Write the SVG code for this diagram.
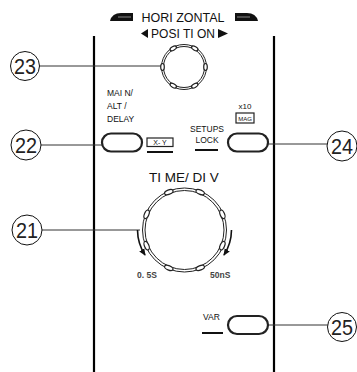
<svg xmlns="http://www.w3.org/2000/svg" width="357" height="372" viewBox="0 0 357 372">
<style>
text{font-family:"Liberation Sans",Arial,sans-serif;fill:#111}
.num{font-size:22px;fill:#222}
.call{fill:#fff;stroke:#111;stroke-width:1}
.lead{stroke:#333;stroke-width:1;fill:none}
.panel{stroke:#000;stroke-width:2.2}
.btn{fill:#fff;stroke:#222;stroke-width:2.2}
.ring{fill:none;stroke:#222;stroke-width:1}
.bump{fill:#fff;stroke:#222;stroke-width:1.2}
.sm{font-size:8.5px}
.scale{font-size:8.5px;fill:#444;font-weight:bold}
</style>
<defs>
<marker id="ah" markerWidth="8" markerHeight="8" refX="6" refY="4" orient="auto" markerUnits="userSpaceOnUse">
<path d="M0,1 L7,4 L0,7 Z" fill="#111"/>
</marker>
<ellipse id="b21" cx="0" cy="-41" rx="4.5" ry="2.2" class="bump"/>
<ellipse id="b23" cx="0" cy="-21.5" rx="3.5" ry="1.8" class="bump"/>
</defs>

<g id="panel">
<line x1="94" y1="36" x2="94" y2="372" class="panel"/>
<line x1="274" y1="36" x2="274" y2="372" class="panel"/>
</g>

<g id="title">
<path d="M110,21 Q112,13 121,13 L133,13 L133,21 Z" fill="#111"/>
<line x1="118" y1="17" x2="131" y2="17" stroke="#888" stroke-width="1"/>
<path d="M235,13 L247,13 Q256,13 258,21 L235,21 Z" fill="#111"/>
<line x1="237" y1="17" x2="250" y2="17" stroke="#888" stroke-width="1"/>
<text x="183" y="21.5" font-size="12.5" text-anchor="middle">HORI ZONTAL</text>
<path d="M148,29 L148,38 L141,33.5 Z" fill="#111"/>
<text x="183" y="38" font-size="12" text-anchor="middle">POSI TI ON</text>
<path d="M218,29 L218,38 L228,33.5 Z" fill="#111"/>
</g>

<g id="connectors">
<line x1="39" y1="66" x2="161" y2="66" class="lead"/>
<line x1="41" y1="145" x2="102" y2="145" class="lead"/>
<line x1="42" y1="230" x2="140" y2="230" class="lead"/>
<line x1="268" y1="144" x2="327" y2="144" class="lead"/>
<line x1="268" y1="325" x2="328" y2="325" class="lead"/>
<path d="M137.5,230 A47,47 0 0 0 145,255" stroke="#111" stroke-width="1.6" fill="none" marker-end="url(#ah)"/>
<path d="M231.5,230 A47,47 0 0 1 224,255" stroke="#111" stroke-width="1.6" fill="none" marker-end="url(#ah)"/>
</g>

<g id="knob23">
<circle cx="184" cy="67" r="22.5" class="ring" stroke-width="1.4"/>
<circle cx="184" cy="67" r="20.5" class="ring" stroke-width="1.4"/>
<g transform="translate(184,67)">
<use href="#b23" transform="rotate(30)"/>
<use href="#b23" transform="rotate(90)"/>
<use href="#b23" transform="rotate(150)"/>
<use href="#b23" transform="rotate(210)"/>
<use href="#b23" transform="rotate(270)"/>
<use href="#b23" transform="rotate(330)"/>
</g>
</g>

<g id="callout23">
<circle cx="25" cy="66" r="14.5" class="call"/>
<text x="25" y="74" class="num" text-anchor="middle" textLength="22" lengthAdjust="spacingAndGlyphs">23</text>
</g>

<g id="mainlabel">
<text x="107" y="96" class="sm">MAI N/</text>
<text x="107" y="109" class="sm">ALT  /</text>
<text x="107" y="122" class="sm">DELAY</text>
</g>

<g id="button22">
<rect x="102" y="133.5" width="40" height="18" rx="9" class="btn"/>
</g>
<g id="callout22">
<circle cx="26" cy="145" r="15" class="call"/>
<text x="26" y="153" class="num" text-anchor="middle" textLength="22" lengthAdjust="spacingAndGlyphs">22</text>
</g>

<g id="xy">
<rect x="147" y="138" width="26" height="8.5" fill="#fff" stroke="#222" stroke-width="1.2"/>
<text x="160" y="145" font-size="7" text-anchor="middle">X- Y</text>
<line x1="147" y1="152" x2="173" y2="152" stroke="#111" stroke-width="2"/>
</g>

<g id="mag">
<text x="245" y="109" font-size="8" text-anchor="middle">x10</text>
<rect x="236" y="113" width="18" height="10" fill="#fff" stroke="#222" stroke-width="1.2"/>
<text x="245" y="121" font-size="6" text-anchor="middle">MAG</text>
</g>

<g id="setups">
<text x="207" y="132" class="sm" text-anchor="middle">SETUPS</text>
<text x="207" y="143" class="sm" text-anchor="middle">LOCK</text>
<line x1="195" y1="150" x2="218" y2="150" stroke="#111" stroke-width="2"/>
</g>

<g id="button24">
<rect x="228" y="133.5" width="40" height="18" rx="9" class="btn"/>
</g>
<g id="callout24">
<circle cx="342" cy="146" r="15" class="call"/>
<text x="342" y="154" class="num" text-anchor="middle" textLength="22" lengthAdjust="spacingAndGlyphs">24</text>
</g>

<g id="knob21">
<text x="184" y="182" font-size="13.5" text-anchor="middle">TI ME/ DI V</text>
<circle cx="184.5" cy="230" r="42" class="ring" stroke-width="1.2"/>
<circle cx="184.5" cy="230" r="39.5" class="ring" stroke-width="1.2"/>
<g transform="translate(184.5,230)">
<use href="#b21" transform="rotate(22.5)"/>
<use href="#b21" transform="rotate(67.5)"/>
<use href="#b21" transform="rotate(112.5)"/>
<use href="#b21" transform="rotate(157.5)"/>
<use href="#b21" transform="rotate(202.5)"/>
<use href="#b21" transform="rotate(247.5)"/>
<use href="#b21" transform="rotate(292.5)"/>
<use href="#b21" transform="rotate(337.5)"/>
</g>
<text x="137" y="277.5" class="scale">0. 5S</text>
<text x="210" y="277.5" class="scale">50nS</text>
</g>

<g id="callout21">
<circle cx="27" cy="230" r="15" class="call"/>
<text x="27" y="238" class="num" text-anchor="middle" textLength="22" lengthAdjust="spacingAndGlyphs">21</text>
</g>

<g id="var">
<text x="203" y="320" class="sm">VAR</text>
<line x1="202" y1="333" x2="223" y2="333" stroke="#111" stroke-width="2"/>
<rect x="228" y="316" width="40" height="18" rx="9" class="btn"/>
</g>
<g id="callout25">
<circle cx="342" cy="327" r="14.5" class="call"/>
<text x="342" y="335" class="num" text-anchor="middle" textLength="22" lengthAdjust="spacingAndGlyphs">25</text>
</g>
</svg>
